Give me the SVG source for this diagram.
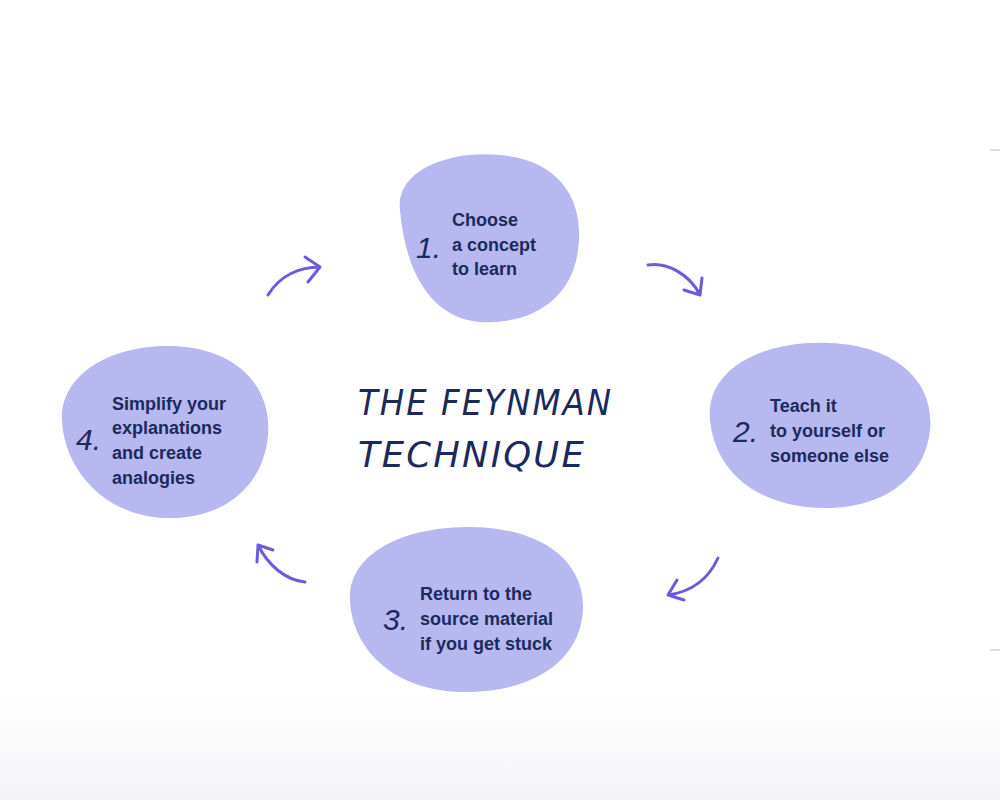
<svg xmlns="http://www.w3.org/2000/svg" width="1000" height="800" viewBox="0 0 1000 800">
<defs>
<style>
.blob{fill:#b8b8f0}
.t{font-family:"Liberation Sans",Arial,sans-serif;font-weight:bold;font-size:18px;fill:#1b2a5c}
.n{font-family:"Liberation Sans",Arial,sans-serif;font-style:italic;font-size:30px;fill:#1b2a5c}
.title{font-family:"DejaVu Sans Condensed","Liberation Sans",sans-serif;font-style:italic;font-size:36px;fill:#1b2a5c;letter-spacing:2px}
.arr{fill:none;stroke:#6a5ae0;stroke-width:3;stroke-linecap:round;stroke-linejoin:round}
</style>
<linearGradient id="bg" x1="0" y1="0" x2="0" y2="1"><stop offset="0" stop-color="#ffffff"/><stop offset="1" stop-color="#f4f4f7"/></linearGradient>
</defs>
<rect width="1000" height="800" fill="#ffffff"/>
<rect y="690" width="1000" height="110" fill="url(#bg)"/>
<line x1="990" y1="150" x2="1000" y2="150" stroke="#bbb"/>
<line x1="990" y1="650" x2="1000" y2="650" stroke="#bbb"/>
<g id="title"><text class="title" x="358" y="415" textLength="255" lengthAdjust="spacingAndGlyphs">THE FEYNMAN</text><text class="title" x="358" y="467" textLength="228" lengthAdjust="spacingAndGlyphs">TECHNIQUE</text></g>
<g id="node1"><path class="blob" d="M400,210 C395,170 450,150 500,155 C560,160 585,200 578,250 C572,300 530,325 480,322 C430,318 405,270 400,210 Z"/>
<text class="n" x="416" y="258">1.</text><text class="t" x="452" y="226">Choose</text><text class="t" x="452" y="251">a concept</text><text class="t" x="452" y="275">to learn</text></g>
<g id="node2"><path class="blob" d="M710,420 C705,370 760,340 830,343 C900,346 935,385 930,430 C925,480 880,510 820,508 C755,506 715,470 710,420 Z"/>
<text class="n" x="733" y="442">2.</text><text class="t" x="770" y="412">Teach it</text><text class="t" x="770" y="437">to yourself or</text><text class="t" x="770" y="462">someone else</text></g>
<g id="node3"><path class="blob" d="M350,600 C348,555 400,528 465,527 C540,526 585,560 583,610 C580,660 535,692 465,692 C395,692 352,650 350,600 Z"/>
<text class="n" x="383" y="630">3.</text><text class="t" x="420" y="600">Return to the</text><text class="t" x="420" y="625">source material</text><text class="t" x="420" y="650">if you get stuck</text></g>
<g id="node4"><path class="blob" d="M62,420 C60,375 110,345 170,346 C235,347 272,385 268,435 C264,485 225,520 165,518 C105,516 64,470 62,420 Z"/>
<text class="n" x="76" y="450">4.</text><text class="t" x="112" y="410">Simplify your</text><text class="t" x="112" y="434">explanations</text><text class="t" x="112" y="459">and create</text><text class="t" x="112" y="484">analogies</text></g>
<g id="connectors">
<path class="arr" d="M268,295 C280,275 300,267 320,267 M305,257 L320,267 L308,282"/>
<path class="arr" d="M648,265 C668,262 690,275 700,295 M702,278 L700,295 L684,290"/>
<path class="arr" d="M718,558 C708,580 690,592 668,595 M677,580 L668,595 L684,600"/>
<path class="arr" d="M305,582 C285,580 268,565 258,545 M257,562 L258,545 L273,550"/>
</g>
</svg>
